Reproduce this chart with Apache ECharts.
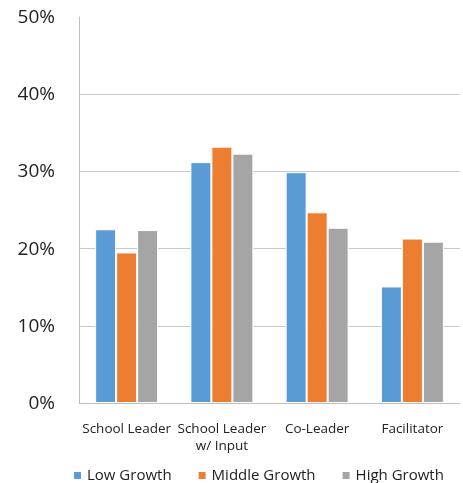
<!DOCTYPE html>
<html>
<head>
<meta charset="utf-8">
<script src="https://cdn.jsdelivr.net/npm/echarts@6/dist/echarts.min.js"></script>
<style>
html,body{margin:0;padding:0;background:#fff;}
#chart{width:463px;height:483px;}
</style>
</head>
<body>
<div id="chart"></div>
<script>
const categories = ['School Leader', 'School Leader\nw/ Input', 'Co-Leader', 'Facilitator'];
const seriesNames = ['Low Growth', 'Middle Growth', 'High Growth'];
const lowGrowth = [22.5, 31.2, 29.9, 15.1];
const middleGrowth = [19.5, 33.2, 24.7, 21.3];
const highGrowth = [22.4, 32.3, 22.7, 20.9];
const colors = ['#5B9BD5', '#ED7D31', '#A5A5A5'];
const yTicks = [0, 10, 20, 30, 40, 50];

const chart = echarts.init(document.getElementById('chart'));
const font = '"Open Sans", sans-serif';
const mk = (name, data, color) => ({
  name, type: 'bar', data,
  barWidth: 21, barGap: '0%',
  itemStyle: { color, borderColor: '#fff', borderWidth: 1 }
});
chart.setOption({
  animation: false,
  color: colors,
  grid: { left: 79, right: 3, top: 17, bottom: 80, containLabel: false },
  legend: {
    top: 463, left: 67,
    itemWidth: 9, itemHeight: 9, itemGap: 25,
    icon: 'rect',
    textStyle: { fontFamily: font, fontSize: 15, color: '#222' },
    data: seriesNames
  },
  xAxis: {
    type: 'category', data: categories,
    axisLine: { lineStyle: { color: '#bfbfbf', width: 1 } },
    axisTick: { show: false },
    axisLabel: { fontFamily: font, fontSize: 13.5, color: '#222', margin: 18, lineHeight: 17, interval: 0 }
  },
  yAxis: {
    type: 'value', min: yTicks[0], max: yTicks[yTicks.length - 1], interval: 10,
    axisLine: { show: true, lineStyle: { color: '#bfbfbf', width: 1 } },
    axisTick: { show: false },
    axisLabel: { fontFamily: font, fontSize: 19, color: '#222', margin: 24, formatter: v => v + '%', verticalAlign: 'top', padding: [-9, 0, 0, 0] },
    splitLine: { show: true, lineStyle: { color: ['#c8c8c8', '#c8c8c8', '#c8c8c8', '#c8c8c8', '#c8c8c8', 'rgba(0,0,0,0)'], width: 1 } }
  },
  series: [
    mk(seriesNames[0], lowGrowth, colors[0]),
    mk(seriesNames[1], middleGrowth, colors[1]),
    mk(seriesNames[2], highGrowth, colors[2])
  ]
});
</script>
</body>
</html>
